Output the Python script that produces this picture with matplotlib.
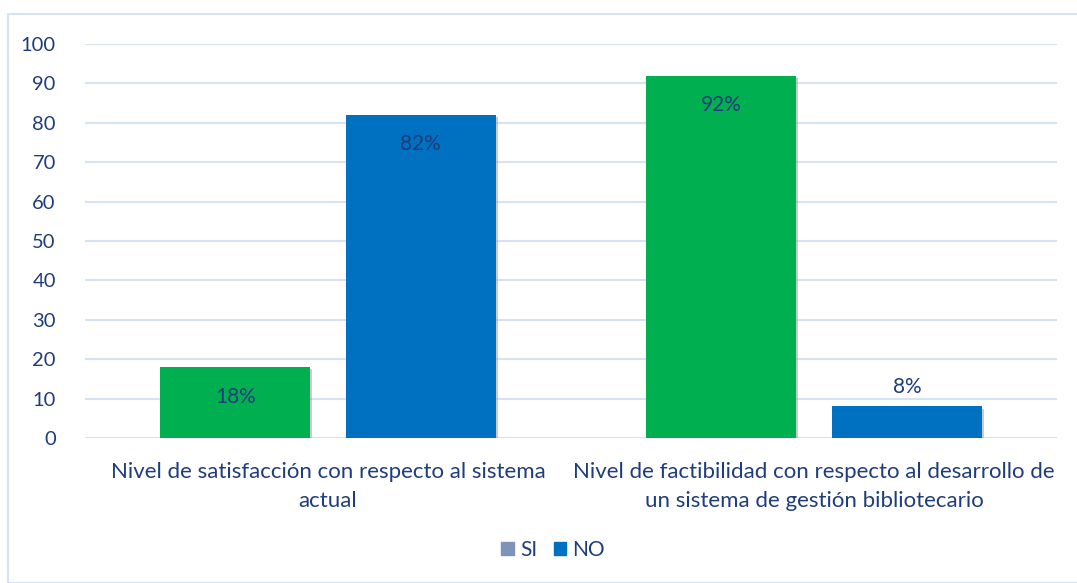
import matplotlib
matplotlib.use("Agg")
import matplotlib.pyplot as plt
import matplotlib.patheffects as pe
from matplotlib.patches import Rectangle, Patch
import numpy as np

categories = ["Nivel de satisfacción con respecto al sistema\nactual",
              "Nivel de factibilidad con respecto al desarrollo de\nun sistema de gestión bibliotecario"]
si_values = [18, 92]
no_values = [82, 8]
si_labels = ["18%", "92%"]
no_labels = ["82%", "8%"]
yticks = [0, 10, 20, 30, 40, 50, 60, 70, 80, 90, 100]

txt = "#1f3d7a"
green = "#00b050"
blue = "#0070c0"
legend_si = "#7f93b9"

plt.rcParams['font.family'] = ['Lato', 'DejaVu Sans']

fig = plt.figure(figsize=(10.77, 5.83), dpi=100)
fig.patches.append(Rectangle((8/1077, 0), 1.0, 1 - 14/583, transform=fig.transFigure,
                             fill=False, edgecolor="#d6e3f3", linewidth=1.5))
ax = fig.add_axes([85/1077, 1 - 438/583, (1057-85)/1077, (438-44)/583])

x = np.arange(len(categories))
w = 0.309
off = 0.191
shadow = [pe.SimplePatchShadow(offset=(1.5, -1.5), shadow_rgbFace="#999999", alpha=0.5), pe.Normal()]
b1 = ax.bar(x - off, si_values, w, color=green, zorder=3, path_effects=shadow)
b2 = ax.bar(x + off, no_values, w, color=blue, zorder=3, path_effects=shadow)

for bars, vals, labs in [(b1, si_values, si_labels), (b2, no_values, no_labels)]:
    for r, v, l in zip(bars, vals, labs):
        cx = r.get_x() + r.get_width() / 2
        if v >= 15:
            ax.text(cx, v - 7.5, l, ha="center", va="center", color=txt, fontsize=15, zorder=4)
        else:
            ax.text(cx, v + 4.9, l, ha="center", va="center", color=txt, fontsize=15, zorder=4)

ax.set_xlim(-0.5, 1.5)
ax.set_ylim(0, 100)
ax.set_yticks(yticks)
ax.set_yticklabels([str(t) for t in yticks], color=txt, fontsize=14.5)
ax.set_xticks(x)
ax.set_xticklabels(categories, color=txt, fontsize=16, linespacing=1.6)
ax.tick_params(axis="both", length=0)
ax.tick_params(axis="y", pad=21)
ax.tick_params(axis="x", pad=17)
ax.grid(axis="y", color="#d6e3f3", linewidth=1.5, zorder=0)
for s in ax.spines.values():
    s.set_visible(False)

handles = [Patch(color=legend_si, label="SI"), Patch(color=blue, label="NO")]
fig.legend(handles=handles, loc="center", bbox_to_anchor=(553/1077, 1 - 550/583), ncol=2,
           frameon=False, fontsize=15, labelcolor=txt, handlelength=0.6, handleheight=0.6,
           handletextpad=0.3, columnspacing=0.8)

fig.savefig("out.png", dpi=100)
